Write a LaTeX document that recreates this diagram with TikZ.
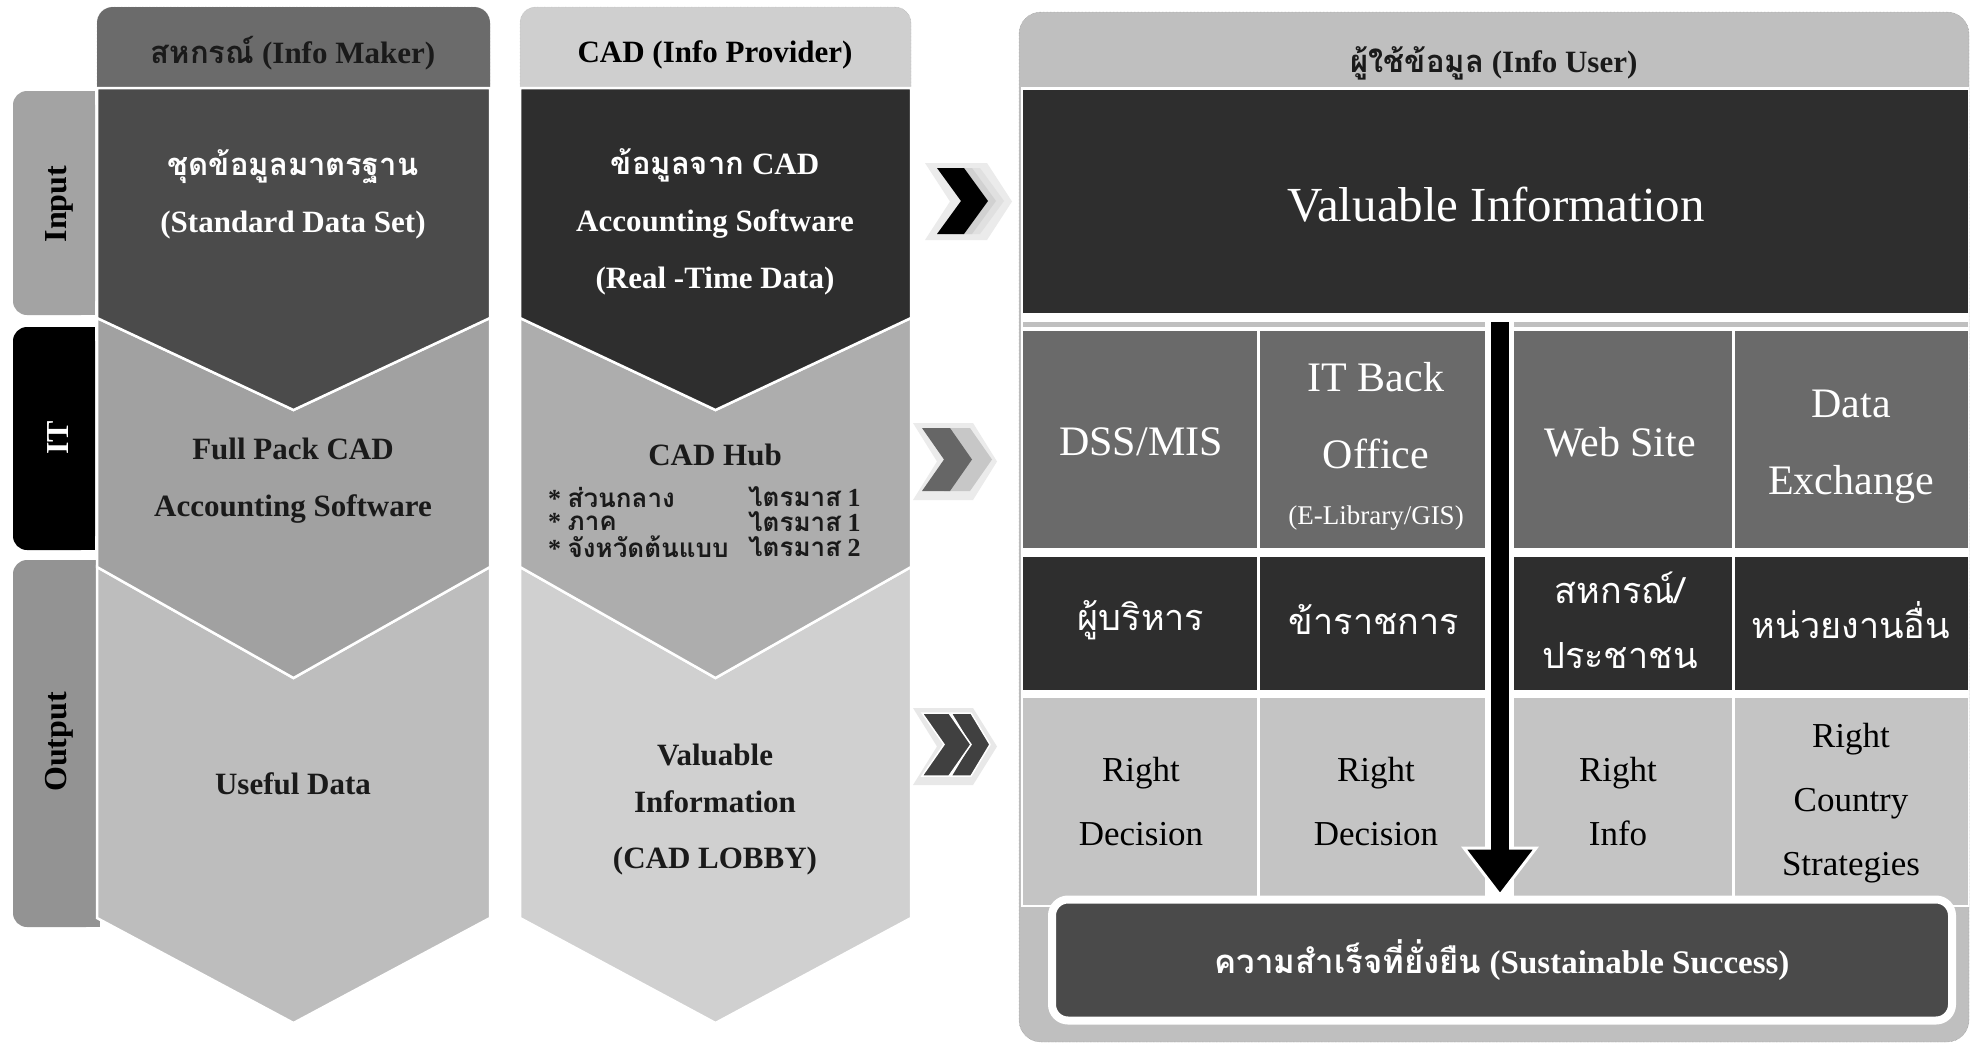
\documentclass[tikz,border=0pt]{standalone}
\usepackage{fontspec}
\setmainfont{Liberation Serif}
\newfontfamily\thaifont[Script=Thai]{Loma}
\newcommand\thx[1]{{\thaifont #1}}
\usetikzlibrary{calc}
\definecolor{hdrA}{HTML}{6B6B6B}
\definecolor{hdrB}{HTML}{CFCFCF}
\definecolor{topA}{HTML}{4B4B4B}
\definecolor{topB}{HTML}{2E2E2E}
\definecolor{midA}{HTML}{A1A1A1}
\definecolor{midB}{HTML}{ADADAD}
\definecolor{botA}{HTML}{BDBDBD}
\definecolor{botB}{HTML}{D0D0D0}
\definecolor{tabIn}{HTML}{A3A3A3}
\definecolor{tabOut}{HTML}{939393}
\definecolor{panel}{HTML}{BFBFBF}
\definecolor{cellA}{HTML}{6A6A6A}
\definecolor{cellB}{HTML}{2E2E2E}
\definecolor{cellC}{HTML}{C4C4C4}
\definecolor{succ}{HTML}{4A4A4A}
\definecolor{txtdark}{HTML}{1A1A1A}
% chevron: style, x, ytop, ybot, width, depth
\newcommand\chev[6]{\fill[#1] (#2,#3) -- ({#2+#5},#3) -- ({#2+#5+#6},{(#3+#4)/2}) -- ({#2+#5},#4) -- (#2,#4) -- ({#2+#6},{(#3+#4)/2}) -- cycle;}
\tikzset{
  bfA/.style={font=\bfseries\fontsize{31}{57}\selectfont, align=center, inner sep=0pt},
  lst/.style={font=\bfseries\fontsize{26}{30}\selectfont, anchor=west, inner sep=0pt, text=txtdark},
  tabtxt/.style={font=\bfseries\fontsize{32}{38}\selectfont, rotate=90, inner sep=0pt},
  cellone/.style={font=\fontsize{42}{77}\selectfont, align=center, inner sep=0pt, text=white},
  celltwo/.style={font=\thaifont\fontsize{36}{65}\selectfont, align=center, inner sep=0pt, text=white},
  cellthree/.style={font=\fontsize{35}{64}\selectfont, align=center, inner sep=0pt, text=black},
  sep/.style={draw=white, line width=2.5pt, line join=miter},
}
\begin{document}
\begin{tikzpicture}[x=1pt,y=-1pt]
\useasboundingbox (0,0) rectangle (1973,1045);
\fill[white] (0,0) rectangle (1973,1045);

% ---- side tabs
\fill[tabIn, rounded corners=14pt] (13,91) rectangle (95,315);
\fill[tabIn] (60,91) rectangle (95,315);
\fill[black, rounded corners=14pt] (13,327) rectangle (95,550);
\fill[black] (60,327) rectangle (95,550);
\fill[tabOut, rounded corners=14pt] (13,560) rectangle (100,927);
\fill[tabOut] (60,560) rectangle (100,927);
\node[tabtxt, text=black] (tin) at (59,204) {Input};
\node[tabtxt, text=white] (tit) at (58,438) {IT};
\node[tabtxt, text=black] (tout) at (59,742) {Output};

% ---- column headers
\filldraw[fill=hdrA, draw=gray, densely dotted, rounded corners=16pt] (97,120) -- (97,7) -- (490,7) -- (490,120);
\filldraw[fill=hdrB, draw=hdrB!80!black, densely dotted, rounded corners=16pt] (520,120) -- (520,7) -- (911,7) -- (911,120);

% ---- column 1 chevrons
\filldraw[fill=botA, sep] (97,567) -- (293.5,678) -- (490,567) -- (490,918) -- (293.5,1023) -- (97,918) -- cycle;
\filldraw[fill=midA, sep] (97,318) -- (293.5,410) -- (490,318) -- (490,567) -- (293.5,678) -- (97,567) -- cycle;
\filldraw[fill=topA, sep] (97,88) -- (490,88) -- (490,318) -- (293.5,410) -- (97,318) -- cycle;
% ---- column 2 chevrons
\filldraw[fill=botB, sep] (520,567) -- (715.5,678) -- (911,567) -- (911,918) -- (715.5,1023) -- (520,918) -- cycle;
\filldraw[fill=midB, sep] (520,318) -- (715.5,410) -- (911,318) -- (911,567) -- (715.5,678) -- (520,567) -- cycle;
\filldraw[fill=topB, sep] (520,88) -- (911,88) -- (911,318) -- (715.5,410) -- (520,318) -- cycle;

% ---- column texts
\node[bfA, text=txtdark] (h1) at (293,53) {\thx{สหกรณ์} (Info Maker)};
\node[bfA, text=black] (h2) at (715,55) {CAD (Info Provider)};
\node[bfA, text=white] (c1in) at (293,194) {\thx{ชุดข้อมูลมาตรฐาน}\\(Standard Data Set)};
\node[bfA, text=white] (c2in) at (715,222) {\thx{ข้อมูลจาก} CAD\\Accounting Software\\(Real -Time Data)};
\node[bfA, text=txtdark] (c1it) at (293,481) {Full Pack CAD\\Accounting Software};
\node[bfA, text=txtdark] (c2it) at (715,455) {CAD Hub};
\node[lst] (l1a) at (548,497) {* \thx{ส่วนกลาง}};
\node[lst] (l1b) at (748,497) {\thx{ไตรมาส} 1};
\node[lst] (l2a) at (548,522) {* \thx{ภาค}};
\node[lst] (l2b) at (748,522) {\thx{ไตรมาส} 1};
\node[lst] (l3a) at (548,547) {* \thx{จังหวัดต้นแบบ}};
\node[lst] (l3b) at (748,547) {\thx{ไตรมาส} 2};
\node[bfA, text=txtdark] (c1out) at (293,784) {Useful Data};
\node[bfA, text=txtdark, font=\bfseries\fontsize{31}{47}\selectfont] (c2out) at (715,810) {Valuable\\Information\\[9pt](CAD LOBBY)};

% ---- chevron arrows
\chev{fill=black!8}{925}{163}{240}{62}{25}
\chev{fill=black!12}{953}{168}{234}{27}{24}
\chev{fill=black!18}{945}{168}{234}{27}{24}
\chev{fill=black}{937}{168}{234}{27}{24}

\chev{fill=black!8}{913}{423}{500}{60}{24}
\chev{fill=black!22}{944}{428}{491}{26}{22}
\chev{fill=black!60}{922}{428}{491}{28}{22}

\chev{fill=black!9}{913}{708}{785}{60}{24}
\chev{fill=black!75, draw=white, line width=1.5pt}{951}{713}{776}{20}{19}
\chev{fill=black!75, draw=white, line width=1.5pt}{922}{713}{776}{27}{22}

% ---- right panel
\filldraw[fill=panel, draw=gray, densely dotted, rounded corners=22pt] (1019,12) rectangle (1969,1042);
\fill[white] (1021,87) rectangle (1969,907);
\node[bfA, text=txtdark] (h3) at (1494,63) {\thx{ผู้ใช้ข้อมูล} (Info User)};
\fill[topB] (1023,90) rectangle (1968,313);
\node[font=\fontsize{49}{58}\selectfont, text=white, inner sep=0pt] (vi) at (1496,205) {Valuable Information};
\fill[panel] (1023,322) rectangle (1485,327);
\fill[panel] (1514,322) rectangle (1968,327);
% row 1
\fill[cellA] (1023,331) rectangle (1257,548);
\fill[cellA] (1260,331) rectangle (1485,548);
\fill[cellA] (1514,331) rectangle (1732,548);
\fill[cellA] (1735,331) rectangle (1968,548);
% row 2
\fill[cellB] (1023,557) rectangle (1257,690);
\fill[cellB] (1260,557) rectangle (1485,690);
\fill[cellB] (1514,557) rectangle (1732,690);
\fill[cellB] (1735,557) rectangle (1968,690);
% row 3
\fill[cellC] (1023,698) rectangle (1257,905);
\fill[cellC] (1260,698) rectangle (1485,905);
\fill[cellC] (1514,698) rectangle (1732,905);
\fill[cellC] (1735,698) rectangle (1968,905);

\node[cellone] (r1a) at (1141,442) {DSS/MIS};
\node[cellone] (r1b) at (1376,416) {IT Back\\Office};
\node[font=\fontsize{27}{32}\selectfont, text=white, inner sep=0pt] (r1bs) at (1376,518) {(E-Library/GIS)};
\node[cellone] (r1c) at (1620,442) {Web Site};
\node[cellone] (r1d) at (1851,447) {Data\\Exchange};

\node[celltwo] (r2a) at (1141,620) {ผู้บริหาร};
\node[celltwo] (r2b) at (1374,620) {ข้าราชการ};
\node[celltwo] (r2c) at (1620,620) {สหกรณ์/\\ประชาชน};
\node[celltwo] (r2d) at (1851,620) {หน่วยงานอื่น};

\node[cellthree] (r3a) at (1141,802) {Right\\Decision};
\node[cellthree] (r3b) at (1376,802) {Right\\Decision};
\node[cellthree] (r3c) at (1618,802) {Right\\Info};
\node[cellthree] (r3d) at (1851,803) {Right\\Country\\Strategies};

% ---- big arrow down
\coordinate (atop) at (1500,322);
\coordinate (abase) at (1500,848);
\coordinate (atip) at (1500,895);
\filldraw[fill=black, draw=white, line width=3pt, line join=miter] ($(abase)+(-36,0)$) -- ($(abase)+(36,0)$) -- (atip) -- cycle;
\fill[black] ($(atop)+(-9,0)$) rectangle ($(abase)+(9,3)$);

% ---- success box
\node[draw=white, line width=8pt, fill=succ, rounded corners=16pt, minimum width=900pt, minimum height=121pt, inner sep=0pt,
      font=\bfseries\fontsize{33}{40}\selectfont, text=white] (succ) at (1502,960) {\thx{ความสำเร็จที่ยั่งยืน} (Sustainable Success)};
\end{tikzpicture}
\end{document}
